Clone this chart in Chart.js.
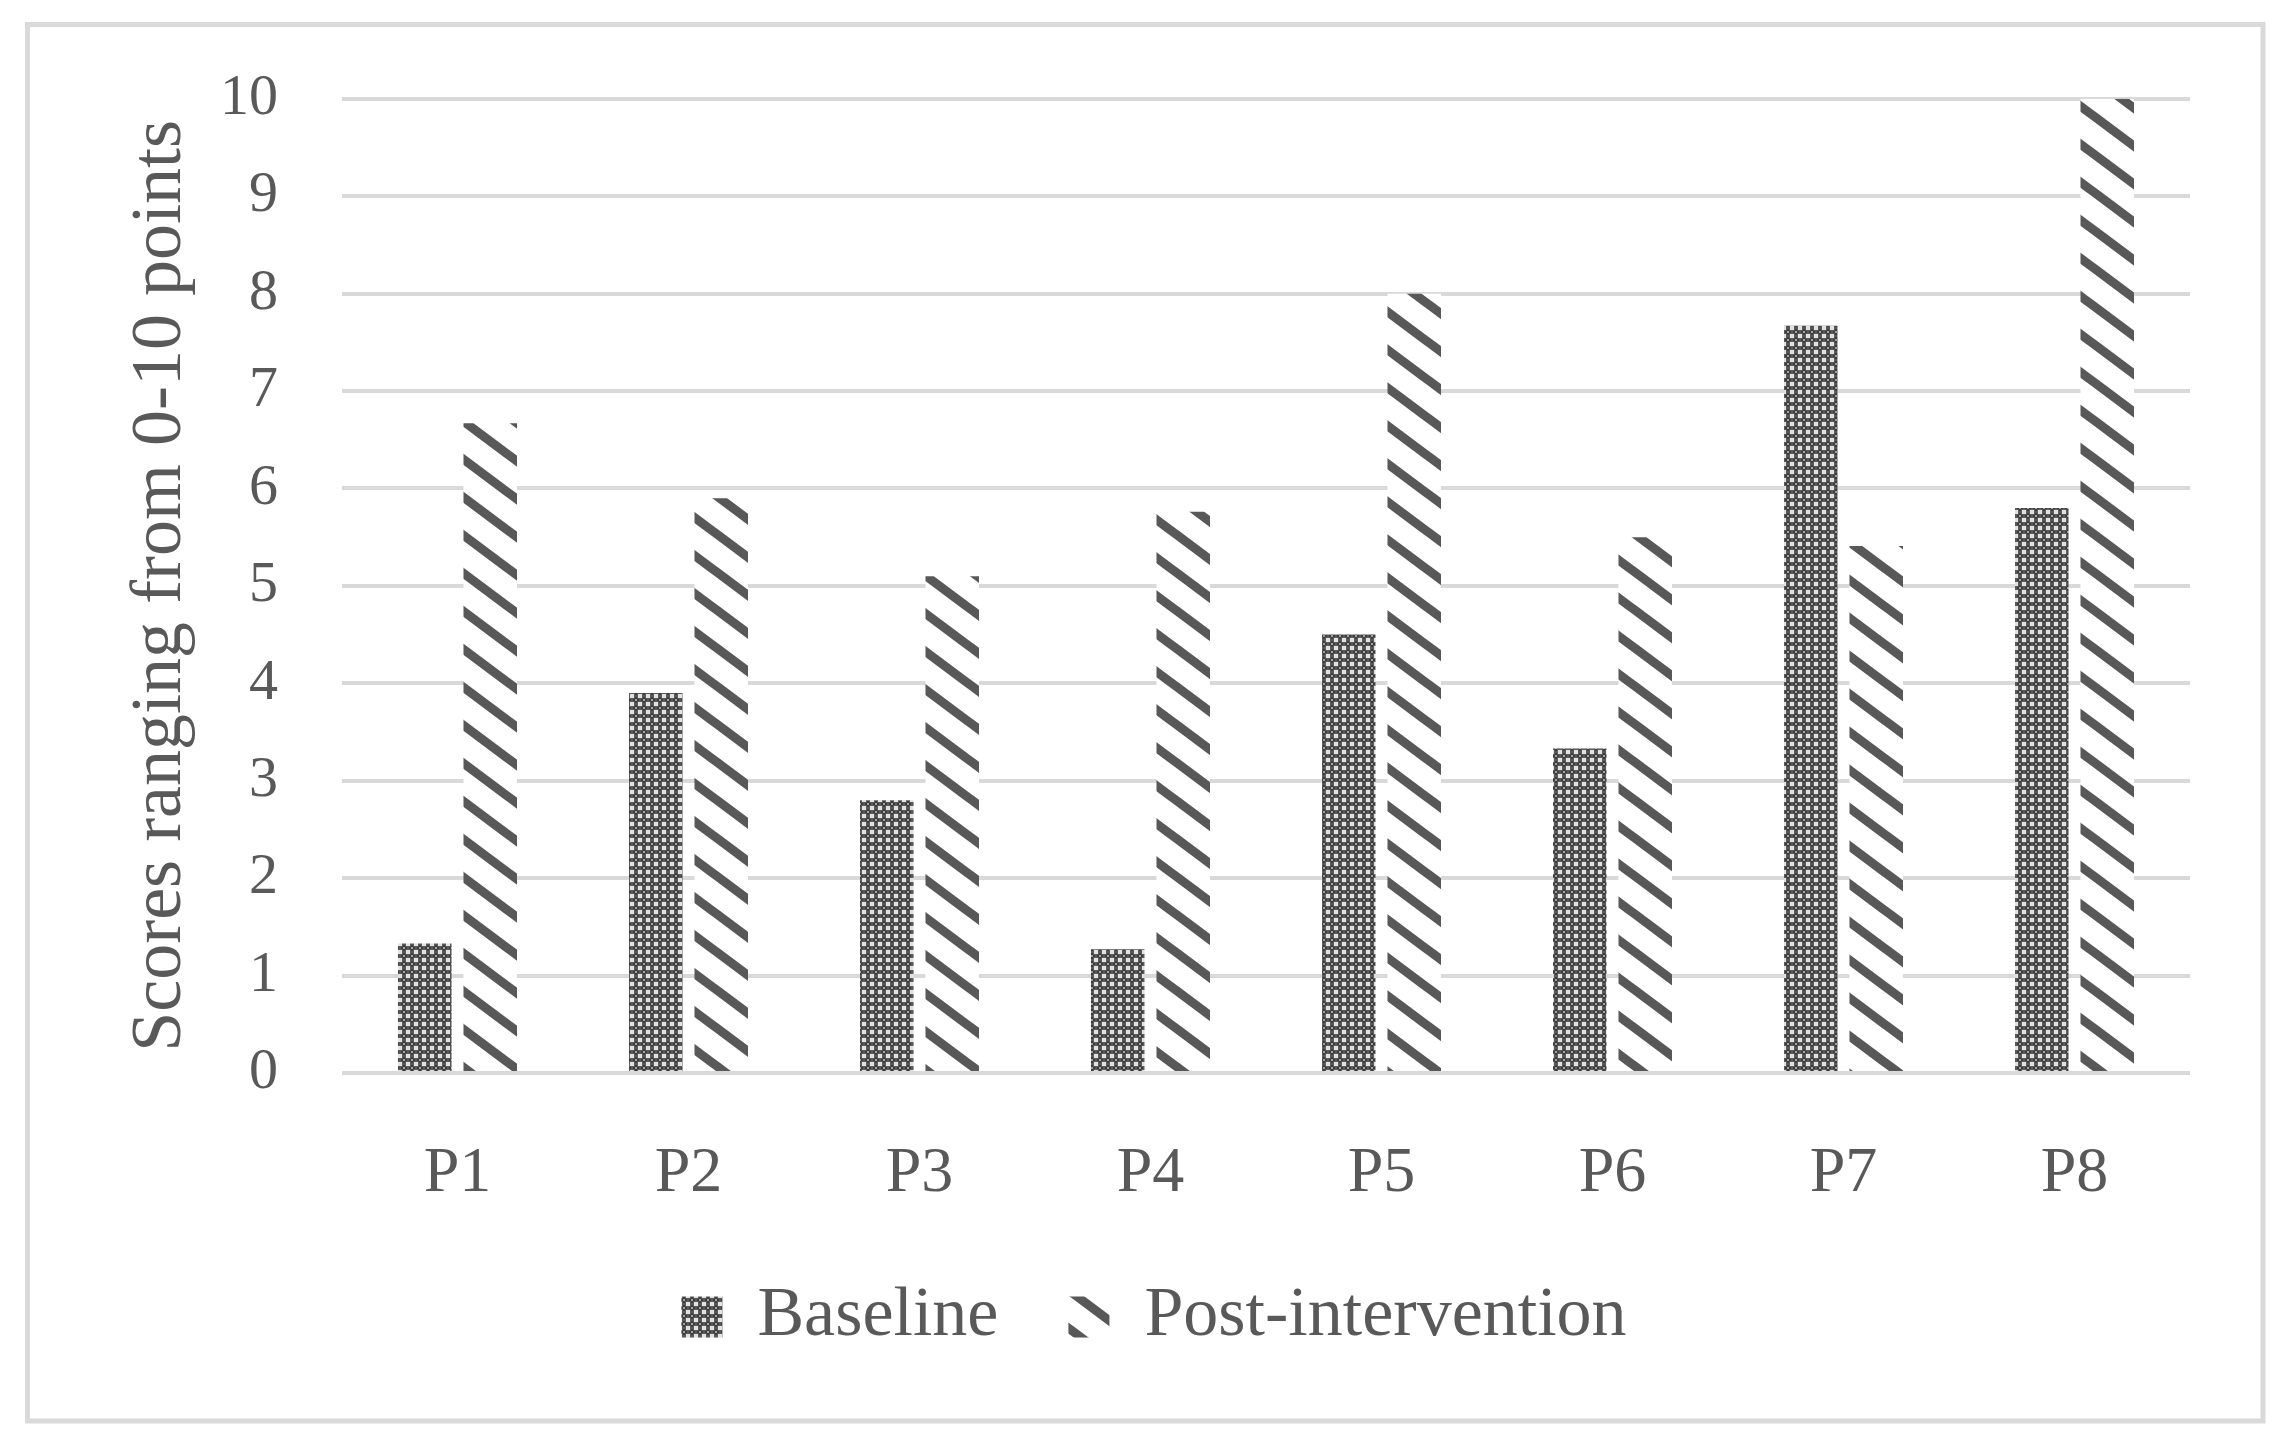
<!DOCTYPE html>
<html>
<head>
    <title>Scores by participant</title>
    <script src="https://cdn.jsdelivr.net/npm/chart.js"></script>
    <style>
        body {
            margin: 0;
            background: #ffffff;
        }
        #chart {
            display: block;
        }
    </style>
</head>
<body>
    <canvas id="chart" width="2287" height="1446" style="width:2287px;height:1446px"></canvas>

    <script>
        // data
        var participants = ['P1', 'P2', 'P3', 'P4', 'P5', 'P6', 'P7', 'P8'];
        var baseline = [1.33, 3.9, 2.8, 1.27, 4.5, 3.33, 7.67, 5.8];
        var postIntervention = [6.67, 5.9, 5.1, 5.76, 8.0, 5.5, 5.41, 10];
        var seriesNames = ['Baseline', 'Post-intervention'];
        var yTitle = 'Scores ranging from 0-10 points';

        var textColor = '#595959';
        var lineColor = '#d9d9d9';
        var fontFamily = "'Liberation Serif', 'DejaVu Serif', serif";

        // dotted grid fill for baseline bars
        function dotPattern() {
            var c = document.createElement('canvas');
            c.width = 8; c.height = 8;
            var g = c.getContext('2d');
            g.fillStyle = '#5a5a5a';
            g.fillRect(0, 0, 8, 8);
            g.fillStyle = '#3c3c3c';
            g.fillRect(1, 3, 6, 2);
            g.fillRect(3, 1, 2, 6);
            g.fillStyle = '#e2e2e2';
            g.fillRect(0, 0, 2, 2);
            g.fillRect(6, 6, 2, 2);
            g.fillRect(6, 0, 2, 2);
            g.fillRect(0, 6, 2, 2);
            g.fillStyle = '#a0a0a0';
            g.fillRect(3, 3, 2, 2);
            return g.createPattern(c, 'repeat');
        }

        // "\" stripes for post-intervention bars
        function stripePattern() {
            var w = 51, h = 38;
            var c = document.createElement('canvas');
            c.width = w; c.height = h;
            var g = c.getContext('2d');
            g.fillStyle = '#ffffff';
            g.fillRect(0, 0, w, h);
            g.strokeStyle = '#585858';
            g.lineWidth = 9;
            for (var k = -1; k <= 1; k++) {
                g.beginPath();
                g.moveTo(-w, -h + k * h);
                g.lineTo(2 * w, 2 * h + k * h);
                g.stroke();
            }
            return g.createPattern(c, 'repeat');
        }

        var outerBorder = {
            id: 'outerBorder',
            beforeDraw: function(chart) {
                var ctx = chart.ctx;
                ctx.save();
                ctx.fillStyle = '#ffffff';
                ctx.fillRect(0, 0, chart.width, chart.height);
                ctx.strokeStyle = lineColor;
                ctx.lineWidth = 5;
                ctx.strokeRect(27.5, 24.5, 2235.5, 1396.5);
                ctx.restore();
            }
        };

        window.onload = function() {
            var ctx = document.getElementById('chart').getContext('2d');
            new Chart(ctx, {
                type: 'bar',
                data: {
                    labels: participants,
                    datasets: [
                        {
                            label: seriesNames[0],
                            data: baseline,
                            backgroundColor: dotPattern(),
                            borderWidth: 0
                        },
                        {
                            label: seriesNames[1],
                            data: postIntervention,
                            backgroundColor: stripePattern(),
                            borderWidth: 0
                        }
                    ]
                },
                options: {
                    responsive: false,
                    devicePixelRatio: 1,
                    animation: false,
                    categoryPercentage: 0.567,
                    barPercentage: 0.817,
                    layout: {
                        padding: { left: 118, right: 97, top: 98, bottom: 84 }
                    },
                    plugins: {
                        tooltip: { enabled: false },
                        legend: {
                            position: 'bottom',
                            labels: {
                                boxWidth: 41,
                                boxHeight: 41,
                                padding: 70,
                                color: textColor,
                                font: { family: fontFamily, size: 70 }
                            }
                        }
                    },
                    scales: {
                        x: {
                            grid: { display: false },
                            border: { display: false },
                            ticks: {
                                color: textColor,
                                padding: 55,
                                font: { family: fontFamily, size: 64 }
                            },
                            afterFit: function(scale) { scale.height = 139; }
                        },
                        y: {
                            min: 0,
                            max: 10,
                            grid: {
                                color: lineColor,
                                lineWidth: 4,
                                drawTicks: false
                            },
                            border: { display: false },
                            ticks: {
                                stepSize: 1,
                                color: textColor,
                                padding: 64,
                                font: { family: fontFamily, size: 58 }
                            },
                            title: {
                                display: true,
                                text: yTitle,
                                color: textColor,
                                padding: 0,
                                font: { family: fontFamily, size: 72 }
                            },
                            afterFit: function(scale) { scale.width = 224; }
                        }
                    }
                },
                plugins: [outerBorder]
            });
        };
    </script>
</body>
</html>
